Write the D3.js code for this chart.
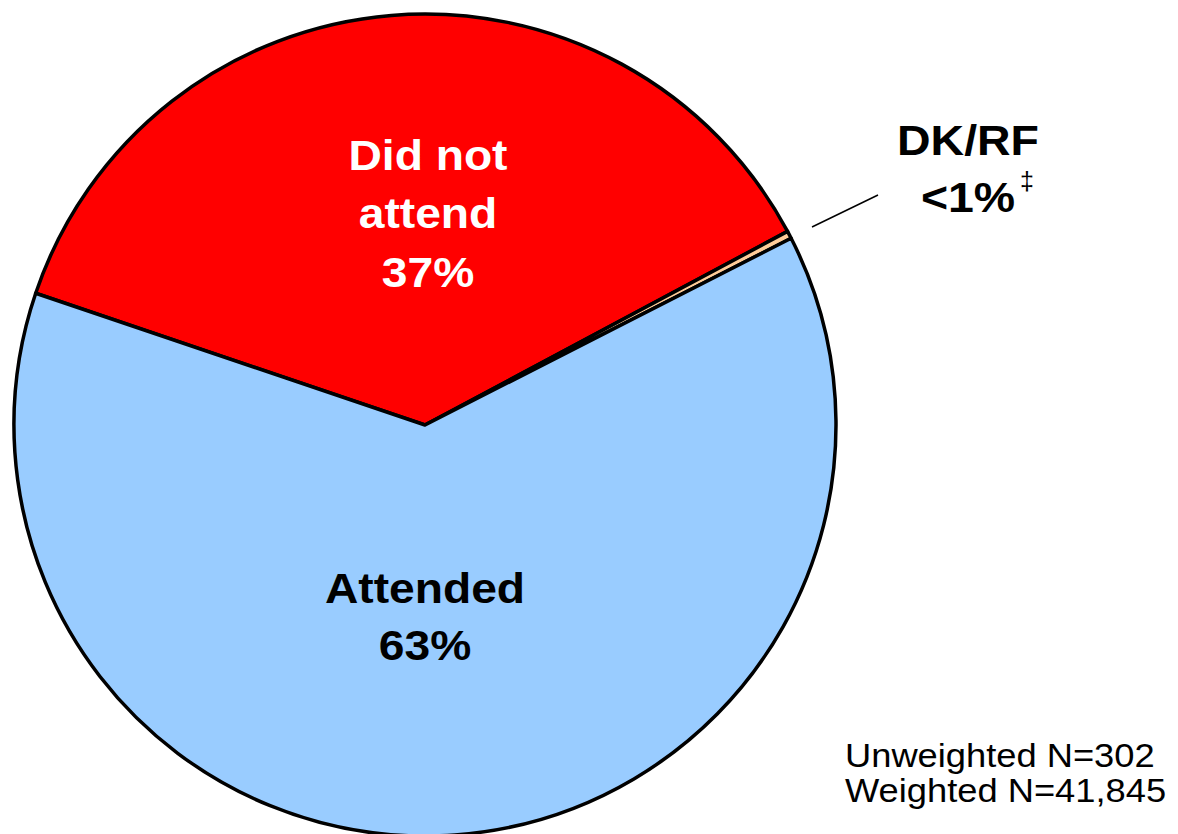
<!DOCTYPE html>
<html>
<head>
<meta charset="utf-8">
<script src="https://cdn.jsdelivr.net/npm/d3@7"></script>
<style>
  html, body { margin: 0; padding: 0; background: #fff; }
  svg { display: block; }
  text { font-family: "Liberation Sans", Arial, Helvetica, sans-serif; }
</style>
</head>
<body>
<svg id="chart" width="1178" height="834"></svg>
<script>
// Attendance shares (percent of weighted respondents)
const categories = ["Did not attend", "DK/RF", "Attended"];
const shares = [37.0, 0.3, 62.7];
const sliceColors = ["#FF0000", "#FFCC99", "#99CCFF"];
const sampleNotes = ["Unweighted N=302", "Weighted N=41,845"];

const svg = d3.select("#chart");
const cx = 425, cy = 425, R = 411;

const data = categories.map((c, i) => ({ category: c, value: shares[i], color: sliceColors[i] }));

// first slice begins in the upper-left, running clockwise
const start = -71.3 * Math.PI / 180;
const pie = d3.pie().sort(null).value(d => d.value)
  .startAngle(start).endAngle(start + 2 * Math.PI);
const arc = d3.arc().innerRadius(0).outerRadius(R);

const g = svg.append("g").attr("transform", `translate(${cx},${cy})`);
const arcs = pie(data);

g.selectAll("path.slice")
  .data(arcs)
  .join("path")
  .attr("class", "slice")
  .attr("d", arc)
  .attr("fill", d => d.data.color)
  .attr("stroke", "#000")
  .attr("stroke-width", 3.5)
  .attr("stroke-linejoin", "round");

const pct = v => `${Math.round(v)}%`;
const byName = Object.fromEntries(arcs.map(a => [a.data.category, a.data]));

// multi-line label helper, horizontally widened like the chart's lettering
function label(lines, x, y, lineH, size, fill, sx) {
  const t = svg.append("g").attr("transform", `translate(${x},${y}) scale(${sx},1)`);
  lines.forEach((ln, i) => {
    t.append("text")
      .attr("x", 0).attr("y", i * lineH)
      .attr("text-anchor", "middle")
      .attr("font-size", size)
      .attr("font-weight", "bold")
      .attr("fill", fill)
      .text(ln);
  });
}

const red = byName["Did not attend"];
label(["Did not", "attend", pct(red.value)], 428, 170, 58.5, 42, "#fff", 1.1);

const blue = byName["Attended"];
label(["Attended", pct(blue.value)], 425, 603, 57, 42, "#000", 1.1);

// small slice: callout label with leader line
const dk = byName["DK/RF"];
label(["DK/RF", dk.value < 1 ? "<1%" : pct(dk.value)], 968, 155, 57, 43, "#000", 1.08);
svg.append("text")
  .attr("x", 1027).attr("y", 190)
  .attr("text-anchor", "middle")
  .attr("font-size", 25)
  .attr("fill", "#000")
  .text("\u2021");
svg.append("line")
  .attr("x1", 812).attr("y1", 227)
  .attr("x2", 878).attr("y2", 195)
  .attr("stroke", "#000")
  .attr("stroke-width", 1.5);

// sample size notes
sampleNotes.forEach((s, i) => {
  svg.append("g")
    .attr("transform", `translate(845,${767 + i * 35}) scale(1.1,1)`)
    .append("text")
    .attr("x", 0).attr("y", 0)
    .attr("font-size", 33)
    .attr("fill", "#000")
    .text(s);
});
</script>
</body>
</html>
